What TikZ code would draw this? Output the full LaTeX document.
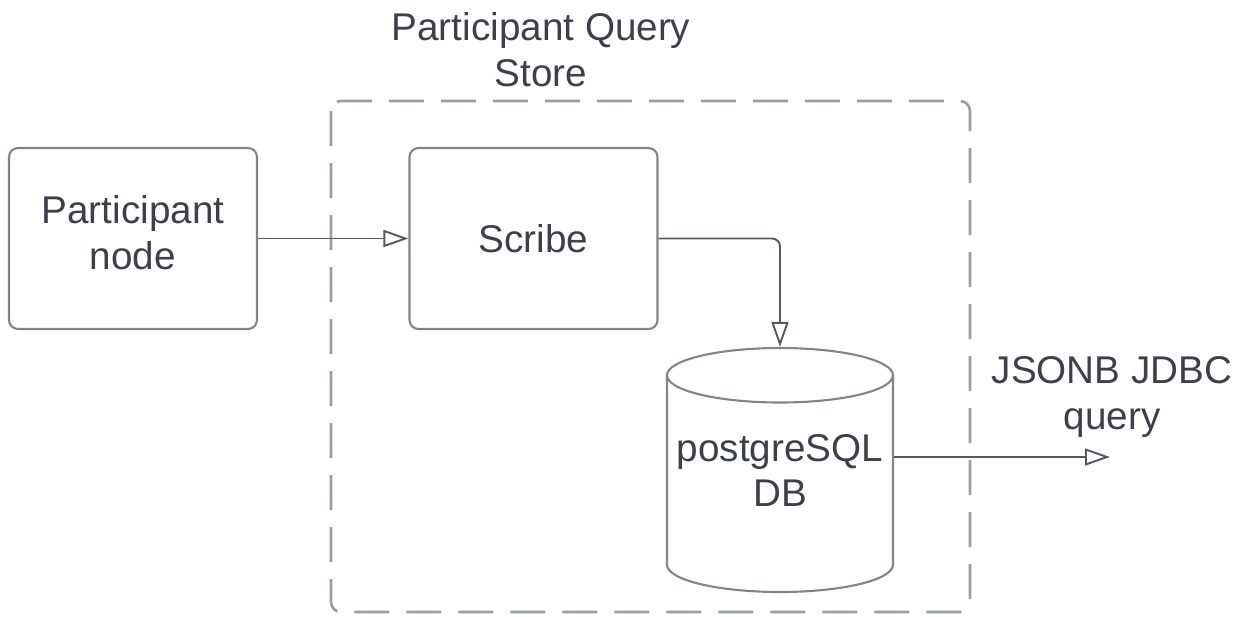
\documentclass[tikz,border=0pt]{standalone}
\usepackage{fontspec}
\setmainfont{Liberation Sans}
\usetikzlibrary{arrows.meta,shapes.geometric}
\definecolor{txt}{HTML}{3C4049}
\definecolor{edge}{HTML}{80858C}
\definecolor{wire}{HTML}{555A61}
\tikzset{
  box/.style={draw=edge, line width=1.2pt, rounded corners=.18cm, minimum width=4.96cm, minimum height=3.62cm, align=center},
  wireto/.style={draw=wire, line width=1.1pt, -{Triangle[open, length=.5cm, width=.34cm, fill=white]}},
  lbl/.style={text=txt, font=\fontsize{22}{26}\selectfont, align=center}
}
\begin{document}
\begin{tikzpicture}[lbl]
  \useasboundingbox (0,0) rectangle (24.82,-12.32);
  % store frame
  \draw[edge!80, line width=1.5pt, dash pattern=on .7cm off .34cm, rounded corners=.2cm]
    (6.62,-2.02) rectangle (19.40,-12.24);
  \node (title) at (10.82,-1.0) {Participant Query\\Store};
  % boxes
  \node[box, text depth=.24cm] (part) at (2.66,-4.77) {Participant\\node};
  \node[box] (scribe) at (10.67,-4.77) {Scribe};
  \node[draw=edge, line width=1.2pt, cylinder, shape border rotate=90, aspect=.25,
        minimum width=4.52cm, minimum height=4.88cm, align=center, text depth=.72cm,
        anchor=shape center] (db) at (15.6,-9.4) {postgreSQL\\DB};
  \node (jdbc) at (22.24,-7.94) {JSONB JDBC\\query};
  \coordinate (qend) at (22.2,-9.14);
  % links
  \draw[wireto] (part) -- (scribe);
  \draw[wireto, rounded corners=.16cm] (scribe.east) -| (db.north);
  \draw[wireto] (db.east |- qend) -- (qend);
\end{tikzpicture}
\end{document}
